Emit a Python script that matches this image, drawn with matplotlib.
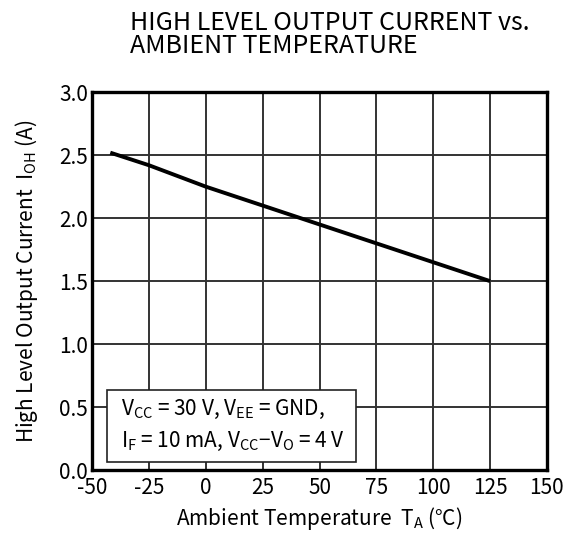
import matplotlib
matplotlib.use("Agg")
import matplotlib.pyplot as plt
from matplotlib.patches import Rectangle

# data
temp_c = [-42, -25, 0, 25, 50, 75, 100, 125]
ioh_a = [2.52, 2.42, 2.25, 2.10, 1.95, 1.80, 1.65, 1.50]

x_ticks = [-50, -25, 0, 25, 50, 75, 100, 125, 150]
y_ticks = [0.0, 0.5, 1.0, 1.5, 2.0, 2.5, 3.0]

plt.rcParams['font.family'] = ['Noto Sans CJK JP', 'DejaVu Sans']
plt.rcParams['mathtext.fontset'] = 'custom'
plt.rcParams['mathtext.rm'] = 'Noto Sans CJK JP'
plt.rcParams['mathtext.it'] = 'Noto Sans CJK JP'

fig = plt.figure(figsize=(5.65, 5.36), dpi=100)
ax = fig.add_axes([0.163, 0.123, 0.805, 0.705])

ax.plot(temp_c, ioh_a, color='black', linewidth=2.8, solid_capstyle='butt', zorder=3)

ax.set_xlim(-50, 150)
ax.set_ylim(0, 3.0)
ax.set_xticks(x_ticks)
ax.set_yticks(y_ticks)
ax.set_xticklabels([str(t) for t in x_ticks])
ax.set_yticklabels([f"{t:.1f}" for t in y_ticks])
ax.tick_params(length=0, labelsize=15)
ax.tick_params(axis='x', pad=5)
ax.tick_params(axis='y', pad=3)
ax.grid(True, color='#333333', linewidth=1.4)
for s in ax.spines.values():
    s.set_linewidth(2.4)

# condition box
ax.add_patch(Rectangle((0.033, 0.021), 0.547, 0.192, transform=ax.transAxes,
                       facecolor='white', edgecolor='#222222', linewidth=1.2, zorder=4))
ax.text(0.063, 0.160, r'V$_{\mathrm{CC}}$ = 30 V, V$_{\mathrm{EE}}$ = GND,',
        transform=ax.transAxes, fontsize=15, va='center', ha='left', zorder=5)
ax.text(0.063, 0.075, r'I$_{\mathrm{F}}$ = 10 mA, V$_{\mathrm{CC}}$−V$_{\mathrm{O}}$ = 4 V',
        transform=ax.transAxes, fontsize=15, va='center', ha='left', zorder=5)

ax.set_xlabel(r'Ambient Temperature  T$_{\mathrm{A}}$ (°C)', fontsize=15, labelpad=4)
ax.set_ylabel(r'High Level Output Current  I$_{\mathrm{OH}}$ (A)', fontsize=15, labelpad=14)

fig.text(0.230, 0.982, 'HIGH LEVEL OUTPUT CURRENT vs.\nAMBIENT TEMPERATURE',
         fontsize=18, ha='left', va='top', linespacing=0.85)

fig.savefig('out.png', dpi=100)
